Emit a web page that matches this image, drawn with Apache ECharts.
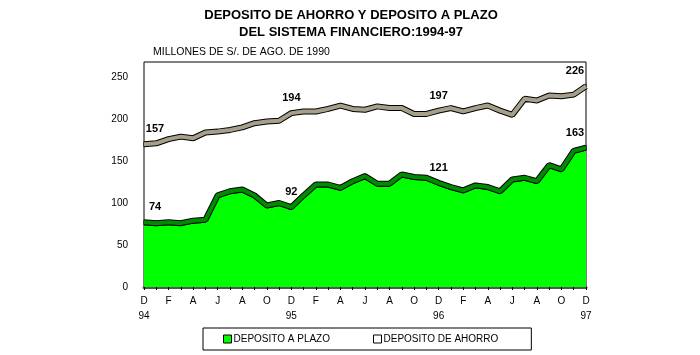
<!DOCTYPE html>
<html>
<head>
<meta charset="utf-8">
<script src="https://cdn.jsdelivr.net/npm/echarts@6/dist/echarts.min.js"></script>
<style>html,body{margin:0;padding:0;background:#fff}#c{width:700px;height:355px}</style>
</head>
<body>
<div id="c"></div>
<script>
const MONTHS = ['D','E','F','M','A','M','J','J','A','S','O','N',
                'D','E','F','M','A','M','J','J','A','S','O','N',
                'D','E','F','M','A','M','J','J','A','S','O','N','D'];
const YEAR_IDX = [0, 12, 24, 36];
const YEAR_LABELS = ['94', '95', '96', '97'];
const PLAZO = [74,73,74,73,76,77,106,111,113,106,94,97,92,106,119,119,115,123,129,120,120,131,128,127,121,116,112,118,116,111,125,127,123,142,137,159,163];
const AHORRO = [157,158,163,166,164,171,172,174,177,182,184,185,194,196,196,199,203,199,198,202,200,200,193,193,197,200,196,200,203,197,192,211,209,215,214,216,226];
const LABEL_IDX = [0, 12, 24, 36];
const Y_TICKS = [0, 50, 100, 150, 200, 250];
const SERIES_NAMES = ['DEPOSITO A PLAZO', 'DEPOSITO DE AHORRO'];

const PX_PER_UNIT = 0.84;          // 210px per 250 units
const GRID_H = 225;
const YMAX = GRID_H / PX_PER_UNIT;
const BAND_SHIFT = 3;              // ribbon centre above front edge (units)
const DEPTH = 10;                  // 3D depth offset of back series (units)

function labelled(arr) {
  return arr.map((v, i) => {
    const k = LABEL_IDX.indexOf(i);
    if (k < 0) return v;
    const dx = i === 0 ? 11 : (i === arr.length - 1 ? -11 : 0);
    return { value: v, label: { show: true, offset: [dx, -2] } };
  });
}

const chart = echarts.init(document.getElementById('c'), null, { renderer: 'canvas' });
const font = 'Arial, "Liberation Sans", sans-serif';
chart.setOption({
  animation: false,
  backgroundColor: '#fff',
  title: [
    { text: 'DEPOSITO DE AHORRO Y DEPOSITO A PLAZO\nDEL SISTEMA FINANCIERO:1994-97',
      left: 351, top: 7, textAlign: 'center', padding: 0,
      textStyle: { fontFamily: font, fontSize: 13, fontWeight: 'bold', color: '#000', lineHeight: 17 } },
    { text: 'MILLONES DE S/. DE AGO. DE 1990', left: 153, top: 47, padding: 0,
      textStyle: { fontFamily: font, fontSize: 10.5, fontWeight: 'normal', color: '#000' } }
  ],
  legend: {
    left: 203, top: 328, width: 327,
    padding: [6, 33, 6, 20],
    itemGap: 43, itemWidth: 8, itemHeight: 8,
    icon: 'rect',
    borderColor: '#000', borderWidth: 1,
    textStyle: { fontFamily: font, fontSize: 10, color: '#000', padding: [0, 0, 0, -3] },
    data: [
      { name: SERIES_NAMES[0], itemStyle: { color: '#00ff00', borderColor: '#000', borderWidth: 1 } },
      { name: SERIES_NAMES[1], itemStyle: { color: '#ffffff', borderColor: '#000', borderWidth: 1 } }
    ]
  },
  grid: { left: 144, right: 114, top: 62, bottom: 68, show: true, borderColor: '#000', borderWidth: 1 },
  xAxis: {
    type: 'category', data: MONTHS, boundaryGap: false,
    axisLine: { show: true, lineStyle: { color: '#555', width: 3 } },
    axisTick: { show: true, interval: 0, length: 3, lineStyle: { color: '#000' } },
    axisLabel: {
      interval: 1, margin: 7, color: '#000', fontFamily: font, fontSize: 10, lineHeight: 15,
      formatter: (v, i) => {
        const k = YEAR_IDX.indexOf(i);
        return k >= 0 ? v + '\n' + YEAR_LABELS[k] : v;
      }
    }
  },
  yAxis: [
    { type: 'value', min: 0, max: YMAX,
      axisLine: { show: false }, axisTick: { show: false }, splitLine: { show: false },
      axisLabel: { customValues: Y_TICKS, margin: 16, color: '#000', fontFamily: font, fontSize: 10 } },
    { type: 'value', min: -(DEPTH + BAND_SHIFT), max: YMAX - (DEPTH + BAND_SHIFT), show: false },
    { type: 'value', min: -BAND_SHIFT, max: YMAX - BAND_SHIFT, show: false }
  ],
  series: [
    { name: SERIES_NAMES[1], type: 'line', yAxisIndex: 1, data: labelled(AHORRO),
      z: 2, showSymbol: true, symbol: 'rect', symbolSize: [1, 5],
      itemStyle: { color: '#000' },
      lineStyle: { color: '#000', width: 6 },
      label: { show: false, position: 'top', color: '#000', fontFamily: font, fontSize: 11, fontWeight: 'bold' } },
    { name: 'ahorro-face', type: 'line', yAxisIndex: 1, data: AHORRO, z: 3,
      showSymbol: false, lineStyle: { color: '#a6a08a', width: 4 }, silent: true },
    { name: SERIES_NAMES[0], type: 'line', yAxisIndex: 0, data: PLAZO, z: 4,
      showSymbol: false, itemStyle: { color: '#00ff00' },
      lineStyle: { color: '#000', width: 1 }, areaStyle: { color: '#00ff00', opacity: 1 } },
    { name: 'plazo-band-edge', type: 'line', yAxisIndex: 2, data: labelled(PLAZO), z: 5,
      showSymbol: true, symbol: 'rect', symbolSize: [1, 5], itemStyle: { color: '#000' },
      lineStyle: { color: '#000', width: 6 },
      label: { show: false, position: 'top', color: '#000', fontFamily: font, fontSize: 11, fontWeight: 'bold' } },
    { name: 'plazo-band-face', type: 'line', yAxisIndex: 2, data: PLAZO, z: 6,
      showSymbol: false, lineStyle: { color: '#008c00', width: 4 }, silent: true }
  ]
});
</script>
</body>
</html>
